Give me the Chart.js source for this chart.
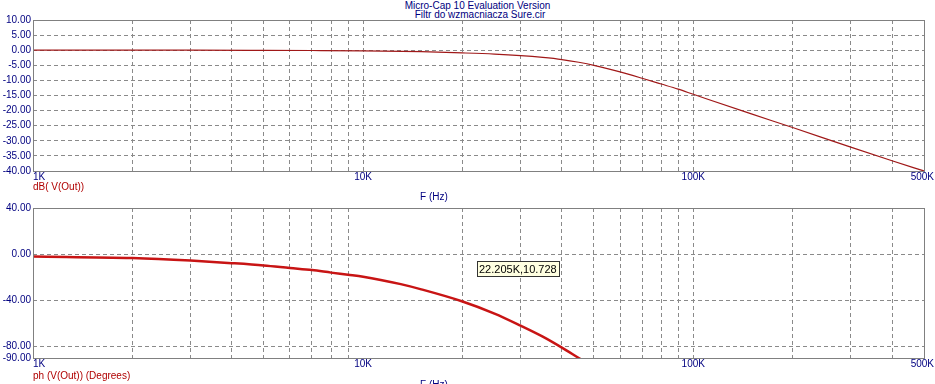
<!DOCTYPE html>
<html>
<head>
<meta charset="utf-8">
<script src="https://cdn.jsdelivr.net/npm/chart.js@4/dist/chart.umd.min.js"></script>
<style>
  body { margin: 0; background: #fff; width: 935px; height: 384px; overflow: hidden; position: relative; font-family: "Liberation Sans", Arial, sans-serif; }
  .box { position: absolute; left: 0; width: 935px; }
  .txt { position: absolute; font-size: 10px; line-height: 10px; white-space: nowrap; }
  .navy { color: #000080; }
  .red { color: #b00000; }
</style>
</head>
<body>
<div class="txt navy" style="left:0;width:955px;text-align:center;top:1px">Micro-Cap 10 Evaluation Version</div>
<div class="txt navy" style="left:0;width:960px;text-align:center;top:10px">Filtr do wzmacniacza Sure.cir</div>
<div class="box" style="top:0;height:200px"><canvas id="magChart"></canvas></div>
<div class="box" style="top:188px;height:196px"><canvas id="phChart"></canvas></div>
<div class="txt red" style="left:33px;top:182px">dB( V(Out))</div>
<div class="txt navy" style="left:420px;top:192px">F (Hz)</div>
<div class="txt red" style="left:33px;top:371px">ph (V(Out)) (Degrees)</div>
<div class="txt navy" style="left:420px;top:380px">F (Hz)</div>
<script>
// frequency response
const magFreq = [1000, 2000, 3000, 5000, 7000, 10000, 15000, 20000, 25000, 30000, 35000, 40000, 45000, 50000, 60000, 70000, 80000, 90000, 100000, 150000, 200000, 300000, 400000, 500000];
const magDb   = [0, 0, 0, -0.05, -0.1, -0.2, -0.5, -0.9, -1.3, -1.8, -2.4, -3.1, -4.0, -5.0, -7.2, -9.3, -11.2, -12.9, -14.6, -21.1, -25.6, -32.1, -36.6, -40];

const phFreq = [1000, 2000, 3000, 4000, 5000, 6000, 7000, 8000, 9000, 10000, 13000, 15000, 20000, 25000, 30000, 35000, 40000, 45000, 50000];
const phDeg  = [-2, -3.4, -5.6, -7.8, -9.8, -12, -13.8, -16, -17.8, -19.5, -26, -30.5, -41, -51.5, -62, -71.5, -81, -90, -98];

// grid / tick positions on the frequency axis
const gridFreq = [1000, 2000, 3000, 4000, 5000, 6000, 7000, 8000, 9000,
  10000, 20000, 30000, 40000, 50000, 60000, 70000, 80000, 90000,
  100000, 200000, 300000, 400000, 500000];
const freqLabels = { 1000: '1K', 10000: '10K', 100000: '100K', 500000: '500K' };
const magTicks = [10, 5, 0, -5, -10, -15, -20, -25, -30, -35, -40];
const phTicks = [40, 0, -40, -80, -90];
const cursorText = '22.205K,10.728';
const cursorAt = { x: 22205, y: -5.5 };

const navy = '#000080';
const gridGray = '#8a8a8a';
const tickFont = { family: '"Liberation Sans", Arial, sans-serif', size: 10 };

// solid frame round the plot + frequency labels (1K sits left-aligned like the original)
const frame = {
  id: 'frame',
  afterDraw(chart) {
    const { ctx, chartArea: a, scales } = chart;
    ctx.save();
    ctx.strokeStyle = '#808080';
    ctx.lineWidth = 1;
    ctx.strokeRect(Math.round(a.left) + 0.5, Math.round(a.top) + 0.5, Math.round(a.right - a.left), Math.round(a.bottom - a.top));
    ctx.fillStyle = navy;
    ctx.font = '10px "Liberation Sans", Arial, sans-serif';
    ctx.textBaseline = 'top';
    Object.keys(freqLabels).forEach(k => {
      const v = Number(k);
      const px = scales.x.getPixelForValue(v);
      const txt = freqLabels[k];
      const w = ctx.measureText(txt).width;
      let x = px - w / 2;
      if (v === 1000) x = px;
      if (x + w > chart.width - 1) x = chart.width - 1 - w;
      ctx.fillText(txt, x, a.bottom + 1);
    });
    ctx.restore();
  }
};

const cursorBox = {
  id: 'cursorBox',
  afterDraw(chart) {
    const { ctx, scales } = chart;
    const x = Math.round(scales.x.getPixelForValue(cursorAt.x));
    const y = Math.round(scales.y.getPixelForValue(cursorAt.y));
    ctx.save();
    ctx.font = '11px "Liberation Sans", Arial, sans-serif';
    const w = Math.ceil(ctx.measureText(cursorText).width) + 4;
    ctx.fillStyle = '#ffffe1';
    ctx.fillRect(x, y, w, 15);
    ctx.strokeStyle = '#333';
    ctx.strokeRect(x + 0.5, y + 0.5, w, 15);
    ctx.fillStyle = '#000';
    ctx.textBaseline = 'middle';
    ctx.fillText(cursorText, x + 2, y + 8.5);
    ctx.restore();
  }
};

function makeChart(id, freq, vals, yTicks, yMin, yMax, color, width, xHeight, hideGridAt, extraPlugins) {
  return new Chart(document.getElementById(id), {
    type: 'line',
    data: {
      datasets: [{
        data: freq.map((f, i) => ({ x: f, y: vals[i] })),
        borderColor: color,
        borderWidth: width,
        pointRadius: 0,
        cubicInterpolationMode: 'monotone',
        fill: false
      }]
    },
    options: {
      responsive: true,
      maintainAspectRatio: false,
      animation: false,
      layout: { padding: { top: 20, right: 11, left: 0, bottom: 0 } },
      plugins: { legend: { display: false }, tooltip: { enabled: false } },
      scales: {
        x: {
          type: 'logarithmic',
          min: 1000,
          max: 500000,
          afterBuildTicks: s => { s.ticks = gridFreq.map(v => ({ value: v })); },
          afterFit: s => { s.height = xHeight; },
          ticks: { autoSkip: false, maxRotation: 0, callback: () => '' },
          grid: {
            drawTicks: false,
            color: c => (c.tick && c.tick.value === hideGridAt) ? 'rgba(0,0,0,0)' : gridGray,
            lineWidth: 1
          },
          border: { display: false, dash: [4, 3] }
        },
        y: {
          min: yMin,
          max: yMax,
          afterBuildTicks: s => { s.ticks = yTicks.map(v => ({ value: v })); },
          afterFit: s => { s.width = 33; },
          ticks: {
            autoSkip: false,
            padding: 2,
            color: navy,
            font: tickFont,
            callback: v => v.toFixed(2)
          },
          grid: { drawTicks: false, color: gridGray, lineWidth: 1 },
          border: { display: false, dash: [4, 3] }
        }
      }
    },
    plugins: [frame].concat(extraPlugins)
  });
}

makeChart('magChart', magFreq, magDb, magTicks, -40, 10, '#a01818', 1.2, 29, null, []);
makeChart('phChart', phFreq, phDeg, phTicks, -90, 40, '#c81414', 2.5, 26, 10000, [cursorBox]);
</script>
</body>
</html>
